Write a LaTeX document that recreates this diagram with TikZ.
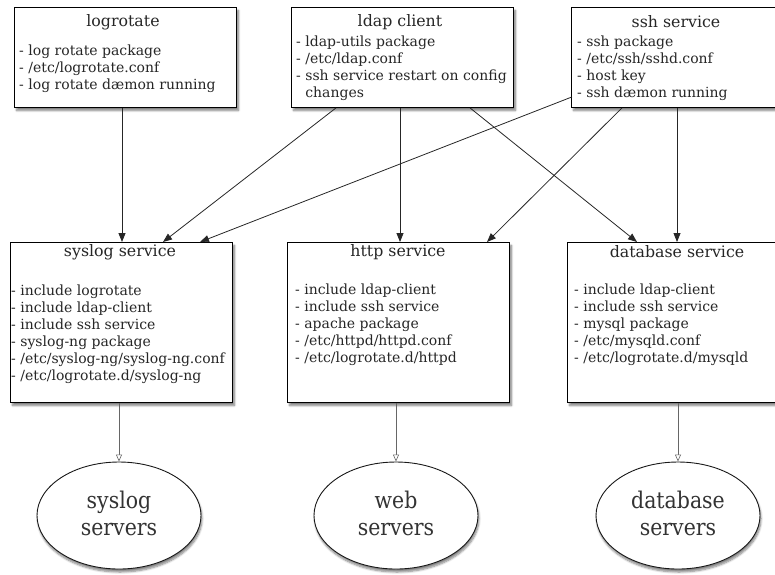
\documentclass[tikz,border=0pt]{standalone}
\usepackage{fontspec}
\setmainfont{DejaVu Serif}
\newfontfamily\condfont[FakeStretch=0.89]{DejaVu Serif}
\usetikzlibrary{arrows.meta,shapes.geometric,shadows.blur,calc}

\tikzset{
  card/.style={draw=black, line width=0.9pt, fill=white, anchor=north west,
    inner sep=0pt,
    blur shadow={shadow xshift=2pt, shadow yshift=-3pt, shadow blur steps=6,
      shadow opacity=50}},
  cardtitle/.style={font=\fontsize{15.8}{18}\selectfont, anchor=center,
    inner sep=0pt, text=black!85},
  cardbody/.style={font=\fontsize{14}{17}\selectfont, align=left,
    anchor=north west, inner sep=0pt, text=black!85},
  hostgroup/.style={ellipse, draw=black!90, line width=0.9pt, fill=white,
    minimum width=164pt, minimum height=107pt, inner sep=0pt,
    blur shadow={shadow xshift=1pt, shadow yshift=-3pt, shadow blur steps=6,
      shadow opacity=50}},
  hostname/.style={align=center, inner sep=0pt,
    font=\condfont\fontsize{23}{27}\selectfont, text=black!80},
  dep/.style={draw=black!85, line width=0.8pt,
    -{Triangle[length=9pt,width=7pt]}},
  role/.style={draw=black!60, line width=0.6pt,
    -{Triangle[open,length=7pt,width=6pt,fill=white]}}
}

\begin{document}
\begin{tikzpicture}[x=1pt,y=-1pt]
  \useasboundingbox (0,0) rectangle (775,574);

  % module boxes, top row
  \node[card, minimum width=222pt, minimum height=100pt] (logrot) at (14,7) {};
  \node[card, minimum width=222pt, minimum height=100pt] (ldap)   at (291,7) {};
  \node[card, minimum width=222pt, minimum height=100pt] (ssh)    at (571,7) {};

  % service boxes, middle row
  \node[card, minimum width=222pt, minimum height=160pt] (syslog) at (10,242) {};
  \node[card, minimum width=222pt, minimum height=160pt] (http)   at (287,242) {};
  \node[card, minimum width=222pt, minimum height=160pt] (db)     at (567,242) {};

  % titles
  \node[cardtitle] (logrotT) at (123,22) {logrotate};
  \node[cardtitle] (ldapT)   at (400,22) {ldap client};
  \node[cardtitle] (sshT)    at (676,22) {ssh service};
  \node[cardtitle] (syslogT) at (120,252) {syslog service};
  \node[cardtitle] (httpT)   at (398,252) {http service};
  \node[cardtitle] (dbT)     at (677,252) {database service};

  % contents
  \node[cardbody] (logrotB) at (19,45) {- log rotate package\\- /etc/logrotate.conf\\- log rotate dæmon running};
  \node[cardbody] (ldapB) at (296,36) {- ldap-utils package\\- /etc/ldap.conf\\- ssh service restart on config\\\phantom{- }changes};
  \node[cardbody] (sshB) at (577,36) {- ssh package\\- /etc/ssh/sshd.conf\\- host key\\- ssh dæmon running};
  \node[cardbody] (syslogB) at (11,285) {- include logrotate\\- include ldap-client\\- include ssh service\\- syslog-ng package\\- /etc/syslog-ng/syslog-ng.conf\\- /etc/logrotate.d/syslog-ng};
  \node[cardbody] (httpB) at (295,284) {- include ldap-client\\- include ssh service\\- apache package\\- /etc/httpd/httpd.conf\\- /etc/logrotate.d/httpd};
  \node[cardbody] (dbB) at (574,284) {- include ldap-client\\- include ssh service\\- mysql package\\- /etc/mysqld.conf\\- /etc/logrotate.d/mysqld};

  % server groups
  \node[hostgroup] (syslogS) at (119,515.5) {};
  \node[hostgroup] (webS)    at (396,515.5) {};
  \node[hostgroup] (dbS)     at (678,515.5) {};
  \node[hostname] (syslogL) at (119,513.5) {syslog\\servers};
  \node[hostname] (webL)    at (396,513.5) {web\\servers};
  \node[hostname] (dbL)     at (678,513.5) {database\\servers};

  % dependencies between modules and services
  \draw[dep] ($(logrot.south west)+(108,0)$) -- ($(syslog.north west)+(112,0)$);
  \draw[dep] ($(ldap.south west)+(45,0)$)    -- ($(syslog.north west)+(153,0)$);
  \draw[dep] ($(ssh.south west)+(1,-11)$)    -- ($(syslog.north west)+(190,0)$);
  \draw[dep] ($(ldap.south west)+(109,0)$)   -- ($(http.north west)+(113,0)$);
  \draw[dep] ($(ssh.south west)+(51,0)$)     -- ($(http.north west)+(200,0)$);
  \draw[dep] ($(ldap.south west)+(179,0)$)   -- ($(db.north west)+(70,0)$);
  \draw[dep] ($(ssh.south west)+(106,0)$)    -- ($(db.north west)+(110,0)$);

  % services applied to server groups
  \draw[role] ($(syslog.south west)+(109,0)$) -- (syslogS.north);
  \draw[role] ($(http.south west)+(109,0)$)   -- (webS.north);
  \draw[role] ($(db.south west)+(111,0)$)     -- (dbS.north);
\end{tikzpicture}
\end{document}
